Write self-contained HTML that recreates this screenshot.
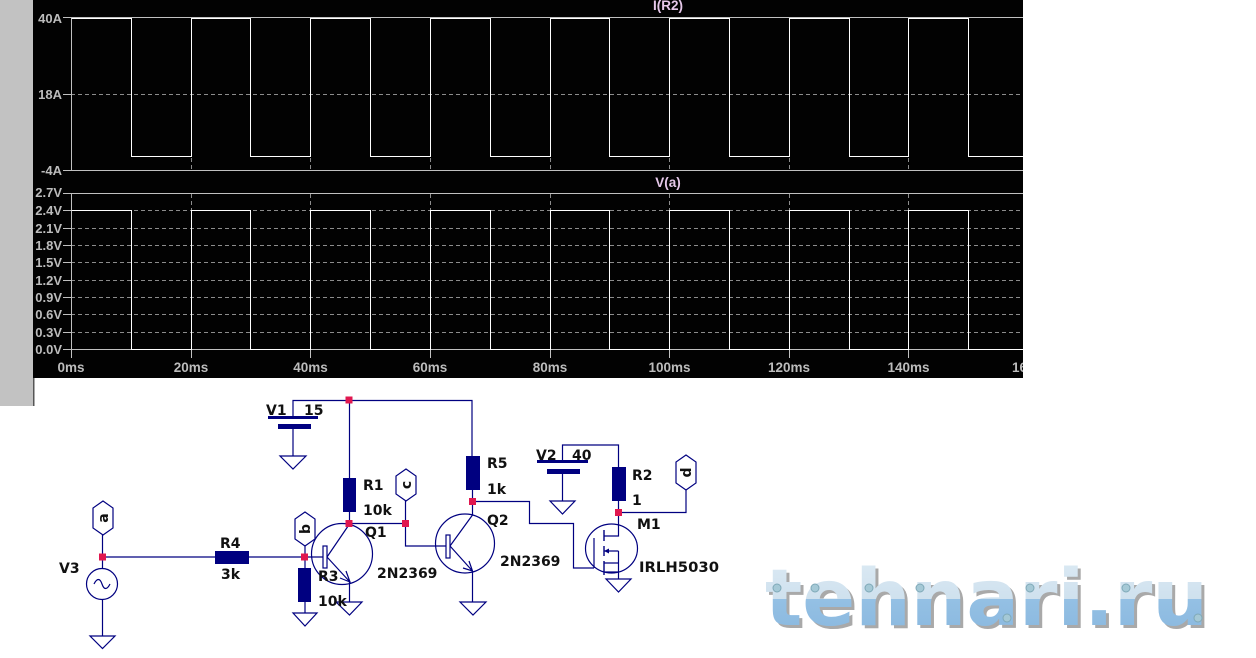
<!DOCTYPE html>
<html><head><meta charset="utf-8"><style>
html,body{margin:0;padding:0;background:#fff;width:1256px;height:658px;overflow:hidden}
svg{display:block}
.ax{font:bold 13px "Liberation Sans",sans-serif;fill:#bcbcbc;text-anchor:end}
.xl{font:bold 13.500px "Liberation Sans",sans-serif;fill:#bcbcbc;text-anchor:middle}
.ti{font:bold 13.500px "Liberation Sans",sans-serif;fill:#e6c8ea;text-anchor:middle}
.s{font:bold 14px "DejaVu Sans",sans-serif;fill:#111}
.t{font:bold 14px "DejaVu Sans",sans-serif;fill:#111;text-anchor:middle}
.w{fill:none;stroke:#000080;stroke-width:1.2}
.r{fill:#000080}
.d{fill:#e0174f}
</style></head><body>
<svg width="1256" height="658" viewBox="0 0 1256 658" xmlns="http://www.w3.org/2000/svg">
<defs>
<clipPath id="cb"><rect x="33" y="0" width="990" height="378"/></clipPath>
<linearGradient id="lg" gradientUnits="userSpaceOnUse" x1="0" y1="556" x2="0" y2="628">
<stop offset="0" stop-color="#dceaf4"/><stop offset="0.6" stop-color="#cfe1ee"/>
<stop offset="0.6" stop-color="#94c0e4"/><stop offset="1" stop-color="#8cbae0"/>
</linearGradient>
</defs>
<rect x="0" y="0" width="33" height="406" fill="#c2c2c2"/>
<rect x="33" y="378" width="1.5" height="28" fill="#555"/>
<rect x="33" y="0" width="990" height="378" fill="#020202"/>
<g clip-path="url(#cb)">
<g fill="none" stroke="#8c8c8c" stroke-width="1" stroke-dasharray="4 3" shape-rendering="crispEdges">
<path d="M71 94.500H1023M71 228.500H1023M71 245.500H1023M71 262.500H1023M71 280.500H1023M71 297.500H1023M71 314.500H1023M71 332.500H1023M71 210.500H1023"/>
<path d="M191.500 18V170M310.500 18V170M430.500 18V170M550.500 18V170M669.500 18V170M789.500 18V170M908.500 18V170"/>
<path d="M191.500 194V349M310.500 194V349M430.500 194V349M550.500 194V349M669.500 194V349M789.500 194V349M908.500 194V349"/>
</g>
<g fill="none" stroke="#c0c0c0" stroke-width="1" shape-rendering="crispEdges">
<path d="M63 17.500H1023M63 170.500H1023M63 193.500H1023M63 349.500H1023M63 94.500H71M63 210.500H71M63 228.500H71M63 245.500H71M63 262.500H71M63 280.500H71M63 297.500H71M63 314.500H71M63 332.500H71"/>
<path d="M71.500 18V170M71.500 194V358M191.500 349V358M310.500 349V358M430.500 349V358M550.500 349V358M669.500 349V358M789.500 349V358M908.500 349V358"/>
</g>
<g fill="none" stroke="#ffffff" stroke-width="1" shape-rendering="crispEdges">
<path d="M71.500 18.500H131.500V156.500H191.500V18.500H250.500V156.500H310.500V18.500H370.500V156.500H430.500V18.500H490.500V156.500H550.500V18.500H609.500V156.500H669.500V18.500H729.500V156.500H789.500V18.500H849.500V156.500H908.500V18.500H968.500V156.500H1023"/>
<path d="M71.500 210.500H131.500V349.500H191.500V210.500H250.500V349.500H310.500V210.500H370.500V349.500H430.500V210.500H490.500V349.500H550.500V210.500H609.500V349.500H669.500V210.500H729.500V349.500H789.500V210.500H849.500V349.500H908.500V210.500H968.500V349.500H1023"/>
</g>
<text class="ax" x="62" y="23">40A</text>
<text class="ax" x="62" y="99">18A</text>
<text class="ax" x="62" y="175">-4A</text>
<text class="ax" x="62" y="197">2.7V</text>
<text class="ax" x="62" y="215">2.4V</text>
<text class="ax" x="62" y="233">2.1V</text>
<text class="ax" x="62" y="250">1.8V</text>
<text class="ax" x="62" y="267">1.5V</text>
<text class="ax" x="62" y="285">1.2V</text>
<text class="ax" x="62" y="302">0.9V</text>
<text class="ax" x="62" y="319">0.6V</text>
<text class="ax" x="62" y="337">0.3V</text>
<text class="ax" x="62" y="354">0.0V</text>
<text class="xl" x="71" y="372">0ms</text>
<text class="xl" x="191" y="372">20ms</text>
<text class="xl" x="310.500" y="372">40ms</text>
<text class="xl" x="430" y="372">60ms</text>
<text class="xl" x="550" y="372">80ms</text>
<text class="xl" x="669.500" y="372">100ms</text>
<text class="xl" x="789" y="372">120ms</text>
<text class="xl" x="908.500" y="372">140ms</text>
<text class="xl" x="1033" y="372">160ms</text>
<text class="ti" x="668" y="10">I(R2)</text>
<text class="ti" x="668" y="187">V(a)</text>
</g>

<!-- wires -->
<g class="w">
<path d="M293 417V400.500H472V456M349.500 400.500V478M349.500 512V523.500H405.500M293 428V456"/>
<path d="M102.500 535V557H215M249 557H327M102.500 557V568.500M102.500 600V636"/>
<path d="M305 546V568M305 602V613M349.500 582V602"/>
<path d="M405.500 501V546H446M472.500 490V515M472.500 571V602"/>
<path d="M472.500 501.500H529.500V523.500H573.500V568H594"/>
<path d="M562.500 461V445H618.500V467M562.500 473V501M618.500 501V536H604M618.500 512.500H686V490"/>
<path d="M604 551H618.500M618.500 551V579M604 563H618.500M604 572H618.500"/>
<path d="M604 530V541M604 546V556M604 561V575" stroke-width="1.4"/>
<path d="M594 538V568"/>
<!-- transistors -->
<circle cx="342" cy="554" r="30.500"/>
<rect x="323" y="546" width="4" height="22" fill="#fff"/>
<path d="M327 557L349.500 524M327 557L350 582M340 578L350 582L346 571"/>
<circle cx="465" cy="543.500" r="29.500"/>
<rect x="446" y="535" width="4" height="23" fill="#fff"/>
<path d="M450 546L472.500 515M450 546L472.500 571M463 568L472.500 571L469 561"/>
<ellipse cx="611.500" cy="548.500" rx="26" ry="24.500"/>
<circle cx="102" cy="584" r="15.500"/>
<path d="M94 584C97 578 100 578 102 584S107 590 110 584"/>
<!-- grounds -->
<path d="M280 456H306L293 469ZM90 636H115L102.500 648.500ZM293 613H317L305 626ZM336 602H362L349.500 615ZM460 602H486L473 615ZM550 501H575L562.500 514ZM606 579H631L618.500 592Z"/>
<!-- tags -->
<path d="M103 501L113 508V528L103 535L93 528V508ZM305 512L315 519V539L305 546L295 539V519ZM406 469L416 476V494L406 501L396 494V476ZM686 455L696 462V483L686 490L676 483V462Z"/>
</g>
<path class="r" d="M604 551L609 548.500V553.500Z"/>
<!-- resistors & plates -->
<rect class="r" x="343" y="478" width="13" height="34"/>
<rect class="r" x="215" y="551" width="34" height="13"/>
<rect class="r" x="298" y="568" width="13" height="34"/>
<rect class="r" x="466" y="456" width="14" height="34"/>
<rect class="r" x="612" y="467" width="14" height="34"/>
<rect class="r" x="268" y="416" width="50" height="3"/>
<rect class="r" x="278" y="424" width="33" height="5"/>
<rect class="r" x="537" y="460" width="51" height="3"/>
<rect class="r" x="547" y="469" width="33" height="5"/>
<!-- junction dots -->
<rect class="d" x="345.500" y="396.500" width="7" height="7"/>
<rect class="d" x="345.500" y="520" width="7" height="7"/>
<rect class="d" x="99" y="553.500" width="7" height="7"/>
<rect class="d" x="301" y="553.500" width="7" height="7"/>
<rect class="d" x="402" y="520" width="7" height="7"/>
<rect class="d" x="469" y="498" width="7" height="7"/>
<rect class="d" x="615" y="509" width="7" height="7"/>
<!-- labels -->
<text class="s" x="266" y="415">V1</text>
<text class="s" x="304" y="415">15</text>
<text class="s" x="59" y="573">V3</text>
<text class="s" x="220" y="548">R4</text>
<text class="s" x="221" y="579">3k</text>
<text class="s" x="363" y="490">R1</text>
<text class="s" x="363" y="515">10k</text>
<text class="s" x="365" y="537">Q1</text>
<text class="s" x="318" y="581">R3</text>
<text class="s" x="318" y="606">10k</text>
<text class="s" x="377" y="578">2N2369</text>
<text class="s" x="487" y="468">R5</text>
<text class="s" x="487" y="494">1k</text>
<text class="s" x="487" y="525">Q2</text>
<text class="s" x="500" y="566">2N2369</text>
<text class="s" x="536" y="460">V2</text>
<text class="s" x="572" y="460">40</text>
<text class="s" x="632" y="480">R2</text>
<text class="s" x="632" y="505">1</text>
<text class="s" x="637" y="529">M1</text>
<text class="s" x="639" y="572" textLength="80" lengthAdjust="spacingAndGlyphs">IRLH5030</text>
<text class="t" transform="translate(108 518) rotate(-90)">a</text>
<text class="t" transform="translate(310 529) rotate(-90)">b</text>
<text class="t" transform="translate(411 485) rotate(-90)">c</text>
<text class="t" transform="translate(691 472.500) rotate(-90)">d</text>
<!-- logo -->
<text x="768" y="628" font-family="DejaVu Sans" font-weight="bold" font-size="78" textLength="443" lengthAdjust="spacingAndGlyphs" fill="#a9a9a9">tehnari.ru</text>
<text x="765" y="625" font-family="DejaVu Sans" font-weight="bold" font-size="78" textLength="443" lengthAdjust="spacingAndGlyphs" fill="url(#lg)">tehnari.ru</text>
<g fill="#a5c9d6" stroke="#7fa9b8" stroke-width="1">
<circle cx="777" cy="588" r="4"/><circle cx="815" cy="588" r="4"/><circle cx="869" cy="588" r="4"/><circle cx="920" cy="588" r="4"/><circle cx="1030" cy="588" r="4"/><circle cx="1126" cy="588" r="4"/><circle cx="1007" cy="618" r="4"/><circle cx="1198" cy="618" r="4"/>
</g>
</svg>
</body></html>
